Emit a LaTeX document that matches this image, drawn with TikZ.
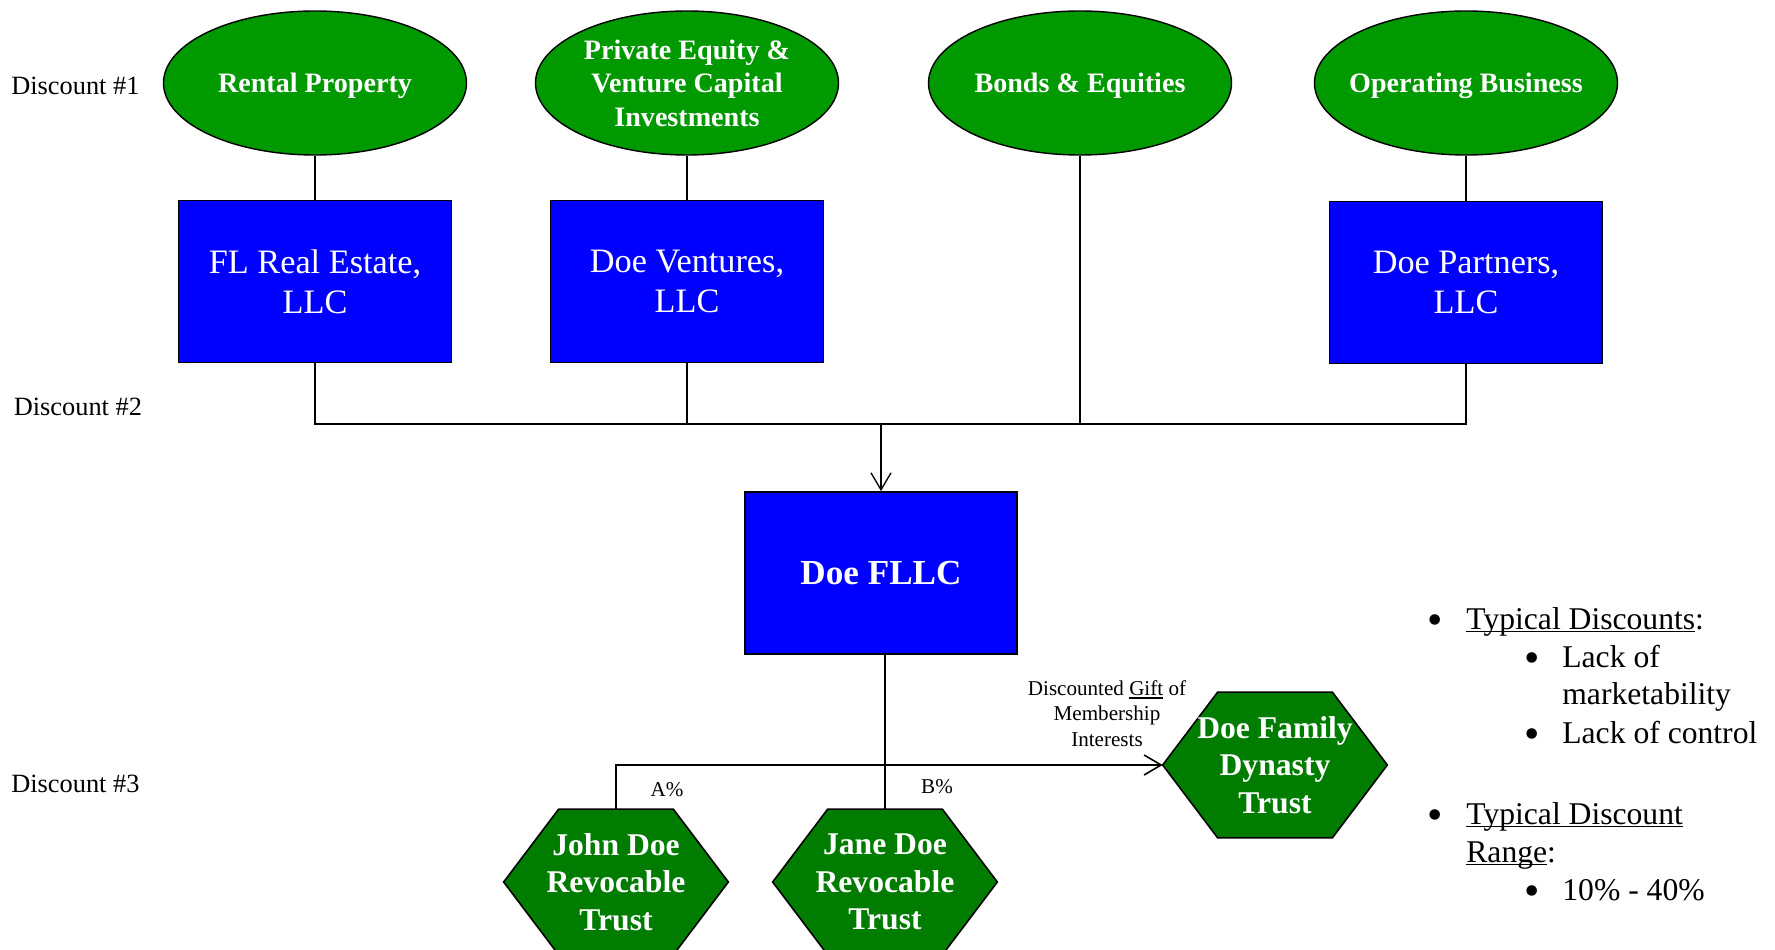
\documentclass[tikz,border=0pt]{standalone}
\usepackage{fontspec}
\setmainfont{Liberation Serif}
\usepackage{tikz}
\usetikzlibrary{shapes,arrows.meta,positioning,backgrounds}
\usepackage{xcolor}
\definecolor{assetgreen}{RGB}{0,153,0}
\definecolor{trustgreen}{RGB}{0,125,0}
\definecolor{llcblue}{RGB}{0,0,255}
\newsavebox{\ulbox}
\newcommand{\ulined}[1]{\sbox{\ulbox}{#1}\rlap{\rule[-1.8pt]{\wd\ulbox}{0.7pt}}\usebox{\ulbox}}

\begin{document}
\begin{tikzpicture}[
    asset/.style={ellipse, draw=black, line width=0.8pt, fill=assetgreen, text=white,
                  minimum width=6.06cm, minimum height=2.88cm, inner xsep=-0.5cm, inner ysep=0pt,
                  text depth=0pt, align=center, font=\fontsize{16}{19}\selectfont\bfseries},
    llc/.style={rectangle, draw=black, line width=1pt, fill=llcblue, text=white,
                minimum width=5.46cm, minimum height=3.24cm, align=center,
                font=\fontsize{19.5}{22.5}\selectfont},
    trust/.style={rectangle, minimum width=4.48cm, minimum height=2.9cm, inner sep=0pt,
                  text=white, align=center, font=\fontsize{18}{21.2}\selectfont\bfseries},
    trustframe/.style={draw=black, line width=0.9pt, fill=trustgreen},
    tier/.style={anchor=west, inner sep=0pt, font=\fontsize{15}{18}\selectfont},
    share/.style={align=center, font=\fontsize{12}{14.4}\selectfont},
    link/.style={draw=black, line width=0.75pt},
    gift/.style={link, line width=0.9pt, -{Straight Barb[length=0.34cm,width=0.4cm]}},
    bullet/.style={anchor=base, inner sep=0pt, yshift=-0.1cm, font=\fontsize{25}{25}\selectfont},
    item/.style={anchor=base west, inner sep=0pt, font=\fontsize{18}{21.3}\selectfont}
]
    \useasboundingbox (0,0) rectangle (35.5,-19);

    \node[tier] (d1) at (0.22,-1.72) {Discount \#1};
    \node[tier] (d2) at (0.27,-8.13) {Discount \#2};
    \node[tier] (d3) at (0.22,-15.67) {Discount \#3};

    \node[asset] (rental) at (6.30,-1.66) {Rental Property};
    \node[asset] (pe) at (13.74,-1.66) {Private Equity \&\\Venture Capital\\Investments};
    \node[asset] (bonds) at (21.60,-1.66) {Bonds \& Equities};
    \node[asset] (operating) at (29.32,-1.66) {Operating Business};

    \node[llc, below=0.88cm of rental] (fl) {FL Real Estate,\\LLC};
    \node[llc, below=0.88cm of pe] (ventures) {Doe Ventures,\\LLC};
    \node[llc, below=0.9cm of operating] (partners) {Doe Partners,\\LLC};

    \draw[link] (rental) -- (fl);
    \draw[link] (pe) -- (ventures);
    \draw[link, line width=1pt] (operating) -- (partners);

    \coordinate (bus) at (17.62,-8.48);
    \node[llc, minimum width=5.44cm, font=\fontsize{20}{24}\selectfont\bfseries] (fllc) at (17.62,-11.46) {Doe FLLC};

    \draw[link] (fl.south) |- (bus) -| (partners.south);
    \draw[link] (ventures.south) -- (ventures.south |- bus);
    \draw[link] (bonds.south) -- (bonds.south |- bus);
    \draw[gift, line width=0.75pt] (bus) -- (fllc.north);

    \node[trust] (john) at (12.32,-17.64) {John Doe\\Revocable\\Trust};
    \node[trust] (jane) at (17.70,-17.64) {Jane Doe\\Revocable\\Trust};
    \node[trust] (dynasty) at (25.50,-15.30) {Doe Family\\Dynasty\\Trust};
    \begin{pgfonlayer}{background}
        \foreach \tr in {john,jane,dynasty}
            \filldraw[trustframe] (\tr.west) -- ([xshift=1.1cm]\tr.north west) -- ([xshift=-1.1cm]\tr.north east)
                -- (\tr.east) -- ([xshift=-1.1cm]\tr.south east) -- ([xshift=1.1cm]\tr.south west) -- cycle;
    \end{pgfonlayer}

    \draw[link, line width=1.1pt] (fllc.south -| jane.north) -- (jane.north);
    \draw[gift] (john.north) |- (dynasty.west);

    \node[share] (gifttext) at (22.14,-14.27) {Discounted \ulined{Gift} of\\Membership\\Interests};
    \node[share] (apct) at (13.34,-15.80) {A\%};
    \node[share] (bpct) at (18.74,-15.74) {B\%};

    \node[bullet] (p1) at (28.70,-12.58) {\textbullet};
    \node[item] (t1) at (29.32,-12.58) {\ulined{Typical Discounts}:};
    \node[bullet] (p2) at (30.64,-13.34) {\textbullet};
    \node[item] (t2) at (31.24,-13.34) {Lack of};
    \node[item] (t3) at (31.24,-14.08) {marketability};
    \node[bullet] (p3) at (30.64,-14.86) {\textbullet};
    \node[item] (t4) at (31.24,-14.86) {Lack of control};
    \node[bullet] (p4) at (28.70,-16.48) {\textbullet};
    \node[item] (t5) at (29.32,-16.48) {\ulined{Typical Discount}};
    \node[item] (t6) at (29.32,-17.24) {\ulined{Range}:};
    \node[bullet] (p5) at (30.64,-18.00) {\textbullet};
    \node[item] (t7) at (31.24,-18.00) {10\% - 40\%};
\end{tikzpicture}
\end{document}
